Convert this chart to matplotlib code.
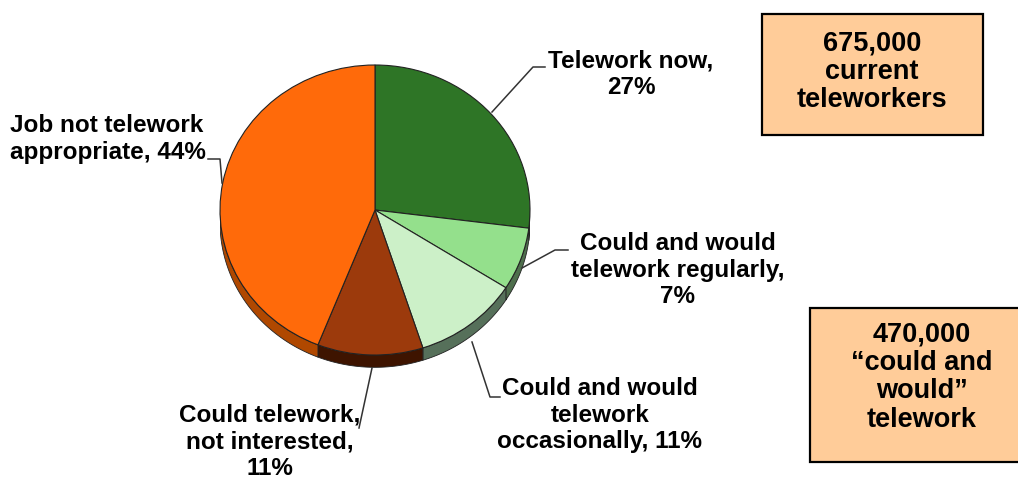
import matplotlib
matplotlib.use('Agg')
import matplotlib.pyplot as plt
import numpy as np
from matplotlib.patches import Rectangle

# slice data, clockwise from 12 o'clock
categories = ['Telework now', 'Could and would telework regularly',
              'Could and would telework occasionally',
              'Could telework, not interested', 'Job not telework appropriate']
shares = [27, 7, 11, 11, 44]
labels = ['Telework now,\n27%',
          'Could and would\ntelework regularly,\n7%',
          'Could and would\ntelework\noccasionally, 11%',
          'Could telework,\nnot interested,\n11%',
          'Job not telework\nappropriate, 44%']
top_colors = ['#2E7526', '#94E08C', '#CCF0C8', '#9C3A0C', '#FF6A0A']
side_colors = ['#1F4F1A', '#4E6E4C', '#56705A', '#3E1400', '#B04800']

box_texts = ['675,000\ncurrent\nteleworkers',
             '470,000\n\u201ccould and\nwould\u201d\ntelework']

W, H = 1018, 480
fig = plt.figure(figsize=(W / 100, H / 100), dpi=100)
fig.patch.set_facecolor('white')

plt.rcParams['font.family'] = ['Liberation Sans', 'DejaVu Sans']

# pie axes, squashed a little to look tilted
depth = 0.085
px_left, px_top, px_w, px_ry = 220, 65, 310, 145
ax_h = (2 + depth + 0.02) * px_ry
ax = fig.add_axes([px_left / W, (H - px_top - ax_h) / H, px_w / W, ax_h / H])
wedges, _ = ax.pie(shares, startangle=90, counterclock=False, colors=top_colors,
                   wedgeprops=dict(edgecolor='#222222', linewidth=0.8))
for w in wedges:
    w.set_zorder(3)

# side band of the pie (front half only)
for w, col in zip(wedges, side_colors):
    a = w.theta1 % 360
    b = a + (w.theta2 - w.theta1)
    for lo, hi in [(180, 360), (540, 720)]:
        s, e = max(a, lo), min(b, hi)
        if e <= s:
            continue
        t = np.radians(np.linspace(s, e, 60))
        xs = np.concatenate([np.cos(t), np.cos(t[::-1])])
        ys = np.concatenate([np.sin(t), np.sin(t[::-1]) - depth])
        ax.fill(xs, ys, color=col, ec='#222222', lw=0.6, zorder=1)

ax.set_aspect('auto')
ax.set_xlim(-1, 1)
ax.set_ylim(-1 - depth - 0.02, 1)
ax.axis('off')

# overlay axes in pixel units for labels, leaders and boxes
ov = fig.add_axes([0, 0, 1, 1], zorder=5)
ov.set_xlim(0, W)
ov.set_ylim(H, 0)
ov.axis('off')
ov.patch.set_alpha(0)

label_pos = [(631, 74, 'center'), (678, 270, 'center'), (600, 415, 'center'),
             (270, 442, 'center'), (10, 139, 'left')]
leaders = [[(545, 67), (533, 67), (492, 112)],
           [(568, 250), (555, 250), (522, 268)],
           [(500, 397), (490, 397), (472, 342)],
           [(359, 428), (372, 368)],
           [(208, 159), (220, 159), (222, 183)]]

for txt, (x, y, ha), pts in zip(labels, label_pos, leaders):
    ov.text(x, y, txt, ha=ha, va='center', multialignment=ha,
            fontsize=17.5, fontweight='bold', linespacing=1.22, color='black')
    xs, ys = zip(*pts)
    ov.plot(xs, ys, color='#333333', lw=1.1)

# callout boxes
boxes = [(762, 14, 221, 121, 872, 72), (810, 308, 212, 154, 922, 377)]
for txt, (bx, by, bw, bh, tx, ty) in zip(box_texts, boxes):
    ov.add_patch(Rectangle((bx, by), bw, bh, facecolor='#FFCC99',
                           edgecolor='black', lw=1.6, clip_on=False))
    ov.text(tx, ty, txt, ha='center', va='center', multialignment='center',
            fontsize=19.5, fontweight='bold', linespacing=1.12, color='black')

fig.savefig('out.png', dpi=100, facecolor='white')
